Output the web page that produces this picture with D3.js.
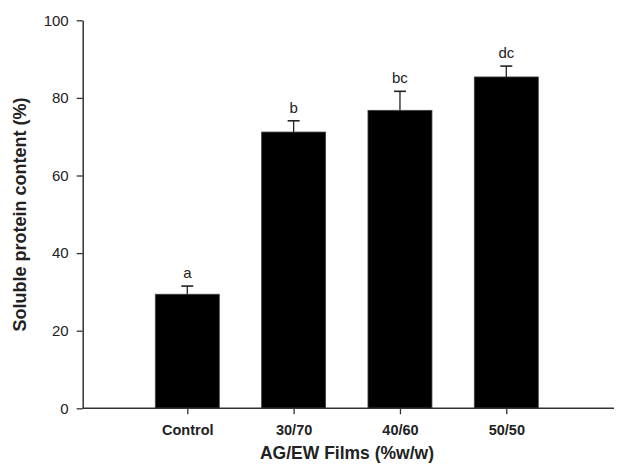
<!DOCTYPE html>
<html><head><meta charset="utf-8">
<script src="https://cdn.jsdelivr.net/npm/d3@7"></script>
<style>body{margin:0;background:#fff}svg{display:block}</style>
</head><body>
<script>
const categories = ["Control", "30/70", "40/60", "50/50"];
const values = [29.4, 71.2, 76.8, 85.4];
const errors = [2.1, 2.9, 4.9, 2.8];
const letters = ["a", "b", "bc", "dc"];
const yTicks = [0, 20, 40, 60, 80, 100];

const W = 618, H = 472;
const svg = d3.select("body").append("svg").attr("width", W).attr("height", H);
const font = "Liberation Sans, Arial, sans-serif";

const x = d3.scalePoint().domain(categories).range([187.3, 506.3]);
const y = d3.scaleLinear().domain([0, 100]).range([408.3, 20.3]);
const barW = 64;
const axisColor = "#333";

// bars
svg.selectAll("rect.bar").data(categories).enter().append("rect")
  .attr("x", d => x(d) - barW / 2)
  .attr("y", (d, i) => y(values[i]))
  .attr("width", barW)
  .attr("height", (d, i) => y(0) - y(values[i]))
  .attr("fill", "#000").attr("stroke", "#444").attr("stroke-width", 0.8);

// error bars (upper only)
const eb = svg.append("g").attr("stroke", "#222");
categories.forEach((c, i) => {
  eb.append("line").attr("x1", x(c)).attr("x2", x(c))
    .attr("y1", y(values[i])).attr("y2", y(values[i] + errors[i])).attr("stroke-width", 1.3);
  eb.append("line").attr("x1", x(c) - 6).attr("x2", x(c) + 6)
    .attr("y1", y(values[i] + errors[i])).attr("y2", y(values[i] + errors[i])).attr("stroke-width", 1.6);
  svg.append("text").attr("x", x(c)).attr("y", y(values[i] + errors[i]) - 8)
    .attr("text-anchor", "middle").attr("font-family", font).attr("font-size", 15)
    .attr("fill", "#222").text(letters[i]);
});

// y axis
const yAxis = svg.append("g").attr("transform", "translate(82.7,0)")
  .call(d3.axisLeft(y).tickValues(yTicks).tickSize(6).tickSizeOuter(0).tickPadding(8));
yAxis.select(".domain").attr("stroke", axisColor).attr("stroke-width", 1.5);
yAxis.selectAll(".tick line").attr("stroke", axisColor).attr("stroke-width", 1.3);
yAxis.selectAll("text").attr("font-family", font).attr("font-size", 15).attr("fill", "#222");

// x axis
const xAxis = svg.append("g").attr("transform", "translate(0,408.3)")
  .call(d3.axisBottom(x).tickSize(6).tickSizeOuter(0).tickPadding(10));
xAxis.select(".domain").remove();
xAxis.append("line").attr("x1", 82.7).attr("x2", 614).attr("y1", 0).attr("y2", 0)
  .attr("stroke", axisColor).attr("stroke-width", 1.5);
xAxis.selectAll(".tick line").attr("stroke", axisColor).attr("stroke-width", 1.3);
xAxis.selectAll("text").attr("font-family", font).attr("font-size", 14.5)
  .attr("font-weight", "bold").attr("fill", "#222");

// titles
svg.append("text").attr("x", 347).attr("y", 459).attr("text-anchor", "middle")
  .attr("font-family", font).attr("font-size", 17.5).attr("font-weight", "bold")
  .attr("fill", "#222").text("AG/EW Films (%w/w)");
svg.append("text").attr("transform", "translate(26,214.5) rotate(-90)")
  .attr("text-anchor", "middle")
  .attr("font-family", font).attr("font-size", 18).attr("font-weight", "bold")
  .attr("fill", "#222").text("Soluble protein content (%)");
</script>
</body></html>
